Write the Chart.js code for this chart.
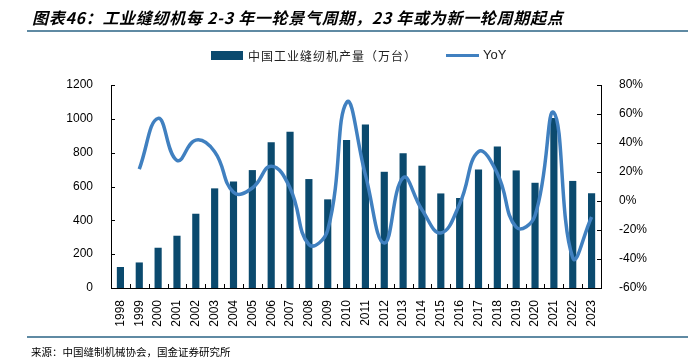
<!DOCTYPE html>
<html>
<head>
<meta charset="utf-8">
<script src="https://cdn.jsdelivr.net/npm/chart.js@4/dist/chart.umd.min.js"></script>
<style>
body { margin: 0; background: #fff; }
.wrap { position: relative; width: 700px; height: 364px; }
canvas { position: absolute; left: 0; top: 0; }
.title {
  position: absolute; left: 32px; top: 5px; letter-spacing: 0.7px;
  font: italic bold 16px "Noto Sans CJK SC", sans-serif; color: #000; white-space: nowrap;
}
.rule { position: absolute; left: 27px; width: 661px; height: 2px; background: #5f8aa3; }
.legend {
  position: absolute; top: 47px; left: 211px; height: 16px;
  font: 12px "Noto Sans CJK SC", sans-serif; color: #222; white-space: nowrap;
}
.legend span { position: absolute; top: 0; }
.src {
  position: absolute; left: 31px; top: 344px;
  font: 10.5px "Noto Sans CJK SC", sans-serif; color: #000; white-space: nowrap;
}
</style>
</head>
<body>
<div class="wrap">
  <canvas id="chart" width="700" height="364"></canvas>
  <div class="title">图表46：工业缝纫机每 2-3 年一轮景气周期，23 年或为新一轮周期起点</div>
  <div class="rule" style="top:30px"></div>
  <div class="legend">
    <span style="left:0;top:4px;width:32px;height:9px;background:#0b4a6e"></span>
    <span style="left:37px;letter-spacing:1px">中国工业缝纫机产量（万台）</span>
    <span style="left:235px;top:7px;width:33px;height:3px;background:#4080c0"></span>
    <span style="left:272px;font-family:'Liberation Sans',sans-serif;font-size:13px">YoY</span>
  </div>
  <div class="rule" style="top:336px"></div>
  <div class="src">来源：中国缝制机械协会，国金证券研究所</div>
</div>
<script>
// data
const years = ['1998','1999','2000','2001','2002','2003','2004','2005','2006','2007','2008','2009','2010',
  '2011','2012','2013','2014','2015','2016','2017','2018','2019','2020','2021','2022','2023'];
const output = [124,151,238,309,439,589,630,697,861,924,644,524,875,967,687,796,723,559,532,701,837,695,622,1005,633,560];
const yoy = [null,22,57,28,42,34,6,9,24,9,-30,-20,68,18,-29,16,-6,-22,-2,34,19,-18,-10,61,-39,-11];
const leftTicks = [0,200,400,600,800,1000,1200];
const rightTicks = [-60,-40,-20,0,20,40,60,80];

const barColor = '#0b4a6e';
const lineColor = '#4080c0';
const tickFont = { family: 'Liberation Sans, Arial, sans-serif', size: 12 };

// small tick marks pointing into the plot
const innerTicks = {
  id: 'innerTicks',
  afterDraw(chart) {
    const ctx = chart.ctx, a = chart.chartArea;
    const y = chart.scales.y, y1 = chart.scales.y1, x = chart.scales.x;
    ctx.save();
    ctx.strokeStyle = '#000';
    ctx.lineWidth = 1;
    ctx.beginPath();
    leftTicks.forEach(v => {
      const p = Math.round(y.getPixelForValue(v)) + 0.5;
      ctx.moveTo(a.left, p); ctx.lineTo(a.left + 4, p);
    });
    rightTicks.forEach(v => {
      const p = Math.round(y1.getPixelForValue(v)) + 0.5;
      ctx.moveTo(a.right, p); ctx.lineTo(a.right - 4, p);
    });
    for (let i = 0; i <= years.length; i++) {
      const p = Math.round(x.getPixelForValue(i - 0.5)) + 0.5;
      ctx.moveTo(p, a.bottom); ctx.lineTo(p, a.bottom - 4);
    }
    ctx.stroke();
    ctx.restore();
  }
};

new Chart(document.getElementById('chart'), {
  data: {
    labels: years,
    datasets: [
      {
        type: 'line',
        label: 'YoY',
        data: yoy,
        yAxisID: 'y1',
        borderColor: lineColor,
        borderWidth: 3.5,
        pointRadius: 0,
        tension: 0.45,
        fill: false,
        order: 0
      },
      {
        type: 'bar',
        label: '中国工业缝纫机产量（万台）',
        data: output,
        yAxisID: 'y',
        backgroundColor: barColor,
        barPercentage: 0.38,
        categoryPercentage: 1,
        order: 1
      }
    ]
  },
  options: {
    responsive: false,
    animation: false,
    layout: { padding: { top: 85, left: 0, right: 0, bottom: 0 } },
    plugins: { legend: { display: false }, tooltip: { enabled: false } },
    scales: {
      x: {
        offset: true,
        grid: { display: false },
        border: { display: true, color: '#000', width: 1 },
        ticks: { color: '#000', font: tickFont, maxRotation: 90, minRotation: 90, padding: 4, autoSkip: false },
        afterFit(s) { s.height = 76; }
      },
      y: {
        position: 'left',
        min: 0, max: 1200,
        grid: { display: false },
        border: { display: true, color: '#000', width: 1 },
        ticks: { color: '#000', font: tickFont, stepSize: 200, padding: 10, callback: v => String(v) },
        afterFit(s) { s.width = 111; }
      },
      y1: {
        position: 'right',
        min: -60, max: 80,
        grid: { display: false },
        border: { display: true, color: '#000', width: 1 },
        ticks: { color: '#000', font: tickFont, stepSize: 20, padding: 10, callback: v => v + '%' },
        afterFit(s) { s.width = 99; }
      }
    }
  },
  plugins: [innerTicks]
});
</script>
</body>
</html>
